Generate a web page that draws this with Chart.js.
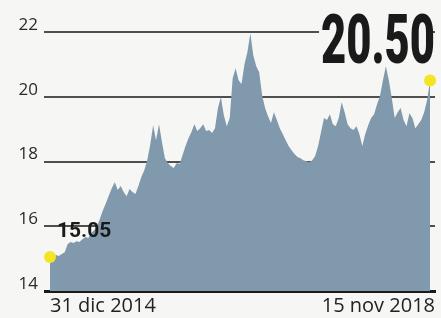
<!DOCTYPE html>
<html>
<head>
<meta charset="utf-8">
<script src="https://cdn.jsdelivr.net/npm/chart.js@4.4.1/dist/chart.umd.min.js"></script>
<style>
  html, body { margin: 0; padding: 0; background: #f6f6f4; }
  canvas { display: block; }
</style>
</head>
<body>
<canvas id="grafico" width="441" height="318"></canvas>
<script>
// valores (aprox. cada 3 px)
const valores = [
  15.05, 15.08, 15.11, 15.08, 15.14, 15.2, 15.45, 15.51, 15.48, 15.54,
  15.51, 15.6, 15.67, 15.64, 15.79, 15.88, 16.0, 16.25, 16.5, 16.72,
  16.96, 17.18, 17.36, 17.12, 17.24, 17.06, 16.93, 17.15, 17.06, 17.0,
  17.24, 17.52, 17.73, 18.04, 18.51, 19.12, 18.66, 19.15, 18.6, 18.1,
  17.95, 17.86, 17.8, 17.95, 17.92, 18.2, 18.48, 18.72, 18.91, 19.15,
  18.94, 19.03, 19.15, 18.94, 18.97, 18.88, 19.03, 19.65, 19.99, 19.43,
  19.09, 19.34, 20.57, 20.88, 20.51, 20.39, 21.0, 21.38, 21.96, 21.28,
  20.94, 20.76, 20.05, 19.65, 19.4, 19.19, 19.52, 19.28, 19.03, 18.85,
  18.66, 18.48, 18.35, 18.23, 18.14, 18.1, 18.04, 18.01, 17.98, 18.04,
  18.17, 18.48, 18.91, 19.34, 19.28, 19.46, 19.15, 19.09, 19.34, 19.83,
  19.52, 19.15, 19.03, 18.97, 19.09, 18.85, 18.48, 18.85, 19.12, 19.34,
  19.46, 19.77, 20.02, 20.51, 20.94, 20.51, 19.96, 19.34, 19.52, 19.65,
  19.28, 19.09, 19.49, 19.34, 19.03, 19.15, 19.28, 19.52, 19.9, 20.5
];
const fechaInicio = "31 dic 2014";
const fechaFin = "15 nov 2018";
const valorInicio = "15.05";
const valorFin = "20.50";
const yTicks = [14, 16, 18, 20, 22];

const n = valores.length;
const puntos = valores.map((v, i) => ({ x: i, y: v }));
// el area empieza en el borde izq. del grafico; el ultimo punto queda a 5px del borde der.
const xMin = 0;
const xMax = (n - 1) * 391 / 386;

const colorArea = "#8099ac";
const colorGrid = "#4f4f4f";
const colorAmarillo = "#f3e524";
const fondo = "#f6f6f4";

const etiquetas = {
  id: "etiquetas",
  afterDraw(chart) {
    const ctx = chart.ctx;
    const meta = chart.getDatasetMeta(0);
    const p0 = meta.data[0];
    const area = chart.chartArea;
    const y22 = chart.scales.y.getPixelForValue(22);

    ctx.save();
    // valor inicial
    ctx.fillStyle = "#1a1a1a";
    ctx.font = "bold 21px Roboto";
    ctx.textBaseline = "alphabetic";
    ctx.textAlign = "left";
    ctx.fillText(valorInicio, p0.x + 7, p0.y - 20);

    // valor final, grande y condensado
    ctx.font = "900 68px Roboto";
    const w = ctx.measureText(valorFin).width;
    const ancho = 114;
    const der = area.right;
    const izq = der - ancho;
    const base = y22 + 31;
    ctx.fillStyle = fondo;
    ctx.fillRect(izq - 2, y22 - 22, ancho - 2, 56);
    ctx.translate(izq, base);
    ctx.scale(ancho / w, 1);
    ctx.fillStyle = "#1a1a1a";
    ctx.fillText(valorFin, 0, 0);
    ctx.restore();
  }
};

const config = {
  type: "line",
  data: {
    datasets: [{
      data: puntos,
      fill: "start",
      backgroundColor: colorArea,
      borderWidth: 0,
      tension: 0,
      pointRadius: valores.map((v, i) => (i === 0 || i === n - 1) ? 6 : 0),
      pointBackgroundColor: colorAmarillo,
      pointBorderWidth: 0,
      clip: false
    }]
  },
  options: {
    responsive: false,
    devicePixelRatio: 1,
    animation: false,
    layout: { padding: { top: 32, right: 0, bottom: 0, left: 0 } },
    plugins: {
      legend: { display: false },
      tooltip: { enabled: false }
    },
    scales: {
      x: {
        type: "linear",
        min: xMin,
        max: xMax,
        z: 1,
        afterBuildTicks: (scale) => {
          scale.ticks = [{ value: 0 }, { value: xMax }];
        },
        afterFit: (scale) => { scale.height = 27; },
        grid: { display: false, drawTicks: false },
        border: { display: true, color: "#1a1a1a", width: 3 },
        ticks: {
          autoSkip: false,
          maxRotation: 0,
          align: "inner",
          padding: 3,
          color: "#222",
          font: { family: "Open Sans", size: 20 },
          callback: (v) => v === 0 ? fechaInicio : fechaFin
        }
      },
      y: {
        min: 14,
        max: 22,
        afterBuildTicks: (scale) => {
          scale.ticks = yTicks.map((v) => ({ value: v }));
        },
        afterFit: (scale) => { scale.width = 50; },
        border: { display: false },
        grid: {
          drawTicks: true,
          tickLength: 6,
          color: (c) => c.tick && c.tick.value === 14 ? "#1a1a1a" : colorGrid,
          tickColor: (c) => c.tick && c.tick.value === 14 ? "#1a1a1a" : colorGrid,
          lineWidth: (c) => c.tick && c.tick.value === 14 ? 3 : 2
        },
        ticks: {
          padding: 6,
          labelOffset: -7,
          color: "#2a2a2a",
          font: { family: "Open Sans", size: 17 }
        }
      }
    }
  },
  plugins: [etiquetas]
};

const grafico = new Chart(document.getElementById("grafico").getContext("2d"), config);
</script>
</body>
</html>
